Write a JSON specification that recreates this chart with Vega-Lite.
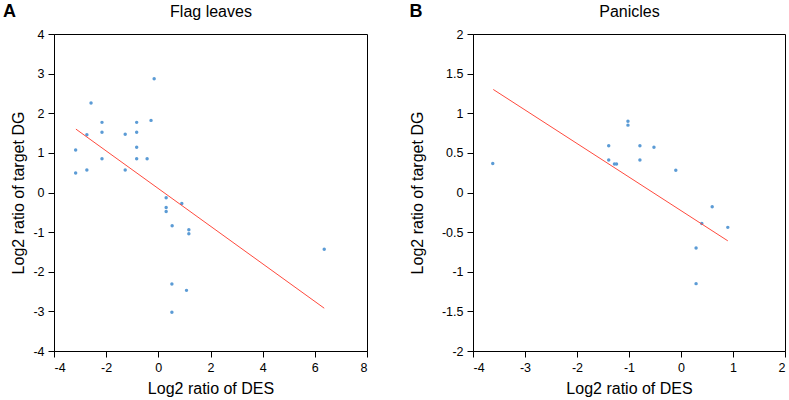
{
  "$schema": "https://vega.github.io/schema/vega-lite/v6.json",
  "padding": {"left": 2, "top": 2, "right": 0, "bottom": 0},
  "spacing": 40,
  "config": {
    "font": "Liberation Sans",
    "view": {"stroke": "black", "strokeWidth": 1},
    "axis": {
      "grid": false,
      "domainColor": "black",
      "tickColor": "black",
      "labelColor": "black",
      "titleColor": "black",
      "labelFontSize": 12.5,
      "titleFontSize": 16,
      "titleFontWeight": "normal",
      "tickSize": 6,
      "labelPadding": 4,
      "labelExpr": "datum.value + ''"
    },
    "title": {"font": "Liberation Sans", "fontSize": 18, "fontWeight": "bold", "anchor": "start", "frame": "bounds", "offset": -18, "color": "black"}
  },
  "datasets": {
    "flag": [
      {"DES": -0.16, "DG": 2.87}, {"DES": -2.58, "DG": 2.26}, {"DES": -2.16, "DG": 1.77},
      {"DES": -0.83, "DG": 1.77}, {"DES": -0.28, "DG": 1.82}, {"DES": -2.74, "DG": 1.46},
      {"DES": -2.16, "DG": 1.52}, {"DES": -1.27, "DG": 1.47}, {"DES": -0.83, "DG": 1.52},
      {"DES": -3.17, "DG": 1.07}, {"DES": -0.83, "DG": 1.14}, {"DES": -2.16, "DG": 0.85},
      {"DES": -0.83, "DG": 0.85}, {"DES": -0.43, "DG": 0.85}, {"DES": -3.17, "DG": 0.49},
      {"DES": -2.74, "DG": 0.57}, {"DES": -1.27, "DG": 0.57}, {"DES": 0.30, "DG": -0.13},
      {"DES": 0.90, "DG": -0.28}, {"DES": 0.30, "DG": -0.38}, {"DES": 0.30, "DG": -0.48},
      {"DES": 0.53, "DG": -0.84}, {"DES": 1.17, "DG": -0.94}, {"DES": 1.17, "DG": -1.04},
      {"DES": 6.36, "DG": -1.43}, {"DES": 0.52, "DG": -2.31}, {"DES": 1.08, "DG": -2.47},
      {"DES": 0.52, "DG": -3.02}
    ],
    "flagLine": [{"DES": -3.16, "DG": 1.60}, {"DES": 6.36, "DG": -2.92}],
    "pan": [
      {"DES": -3.62, "DG": 0.365}, {"DES": -1.02, "DG": 0.90}, {"DES": -1.02, "DG": 0.85},
      {"DES": -1.39, "DG": 0.59}, {"DES": -0.79, "DG": 0.59}, {"DES": -0.52, "DG": 0.57},
      {"DES": -1.39, "DG": 0.41}, {"DES": -0.79, "DG": 0.41}, {"DES": -1.28, "DG": 0.36},
      {"DES": -1.24, "DG": 0.36}, {"DES": -0.10, "DG": 0.28}, {"DES": 0.60, "DG": -0.18},
      {"DES": 0.40, "DG": -0.39}, {"DES": 0.90, "DG": -0.44}, {"DES": 0.29, "DG": -0.70},
      {"DES": 0.29, "DG": -1.15}
    ],
    "panLine": [{"DES": -3.61, "DG": 1.30}, {"DES": 0.90, "DG": -0.61}]
  },
  "hconcat": [
    {
      "width": 313,
      "height": 317,
      "title": {"text": "A", "dx": -8},
      "encoding": {
        "y": {"field": "DG", "type": "quantitative", "scale": {"domain": [-4, 4], "nice": false, "zero": false},
              "axis": {"values": [-4, -3, -2, -1, 0, 1, 2, 3, 4], "title": "Log2 ratio of target DG", "titlePadding": 6}}
      },
      "layer": [
        {
          "data": {"name": "flag"},
          "mark": {"type": "point", "filled": true, "size": 12, "color": "#5b9bd5", "opacity": 1},
          "encoding": {
            "x": {"field": "DES", "type": "quantitative", "scale": {"domain": [-4, 8], "nice": false, "zero": false},
                  "axis": {"values": [-4, -2, 0, 2, 4, 6, 8], "title": "Log2 ratio of DES", "titlePadding": 7}}
          }
        },
        {
          "data": {"name": "flagLine"},
          "mark": {"type": "line", "color": "#ff4a3d", "strokeWidth": 1},
          "encoding": {
            "x": {"field": "DES", "type": "quantitative",
                  "axis": {"orient": "top", "domain": false, "ticks": false, "labels": false, "title": "Flag leaves",
                           "titleBaseline": "alphabetic", "titleY": -18}}
          }
        }
      ],
      "resolve": {"axis": {"x": "independent"}}
    },
    {
      "width": 312,
      "height": 317,
      "title": {"text": "B", "dx": 0},
      "encoding": {
        "y": {"field": "DG", "type": "quantitative", "scale": {"domain": [-2, 2], "nice": false, "zero": false},
              "axis": {"values": [-2, -1.5, -1, -0.5, 0, 0.5, 1, 1.5, 2], "title": "Log2 ratio of target DG", "titlePadding": 16}}
      },
      "layer": [
        {
          "data": {"name": "pan"},
          "mark": {"type": "point", "filled": true, "size": 12, "color": "#5b9bd5", "opacity": 1},
          "encoding": {
            "x": {"field": "DES", "type": "quantitative", "scale": {"domain": [-4, 2], "nice": false, "zero": false},
                  "axis": {"values": [-4, -3, -2, -1, 0, 1, 2], "title": "Log2 ratio of DES", "titlePadding": 7}}
          }
        },
        {
          "data": {"name": "panLine"},
          "mark": {"type": "line", "color": "#ff4a3d", "strokeWidth": 1},
          "encoding": {
            "x": {"field": "DES", "type": "quantitative",
                  "axis": {"orient": "top", "domain": false, "ticks": false, "labels": false, "title": "Panicles",
                           "titleBaseline": "alphabetic", "titleY": -18}}
          }
        }
      ],
      "resolve": {"axis": {"x": "independent"}}
    }
  ]
}
